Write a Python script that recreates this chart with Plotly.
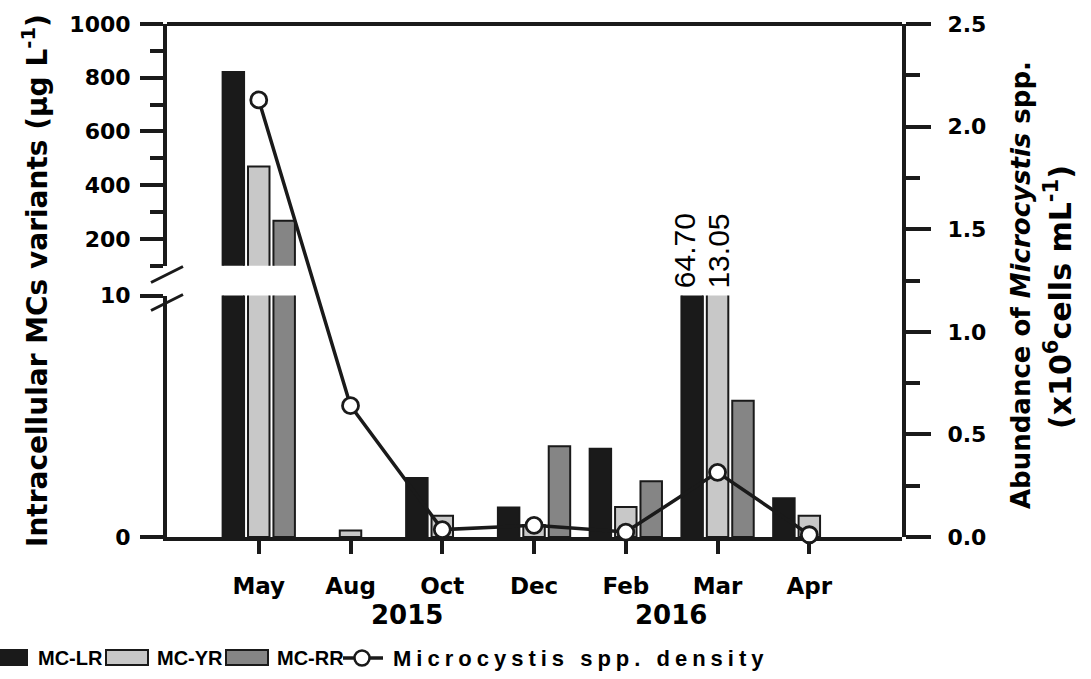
import plotly.graph_objects as go

# ---------------- data ----------------
months = ["May", "Aug", "Oct", "Dec", "Feb", "Mar", "Apr"]
years = ["2015", "2016"]
mc_lr = [821, 0, 2.44, 1.22, 3.65, 64.70, 1.60]
mc_yr = [469, 0.27, 0.88, 0.50, 1.24, 13.05, 0.88]
mc_rr = [267, 0, 0, 3.76, 2.31, 5.64, 0]
density = [2.13, 0.64, 0.036, 0.057, 0.024, 0.315, 0.011]

lower_ticks = [0, 10]
upper_ticks = [200, 400, 600, 800, 1000]
upper_minor = [100, 300, 500, 700, 900]
right_ticks = [0, 0.5, 1.0, 1.5, 2.0, 2.5]
right_minor = [0.25, 0.75, 1.25, 1.75, 2.25]

# ---------------- geometry helpers ----------------
W, H = 1091, 679
ML, MR, MT, MB = 167, 189, 24, 142
PW = W - ML - MR
PH = H - MT - MB


def px(xp):
    return (xp - ML) / PW


def py(yp):
    return (H - MB - yp) / PH


DARK = "#1a1a1a"
BOLD = dict(family="DejaVu Sans", size=22, color="#000", weight="bold")
LEG = dict(family="Liberation Sans", size=20, color="#000", weight="bold")

d_low = py(295.5)
d_up = py(265.7)

fig = go.Figure()

slot = 0.277
bw = 0.234
series = [("MC-LR", mc_lr, "#1a1a1a"), ("MC-YR", mc_yr, "#c8c8c8"), ("MC-RR", mc_rr, "#858585")]
xs = list(range(len(months)))
for k, (name, vals, color) in enumerate(series):
    shown = [v if v > 0 else None for v in vals]
    for yax in ["y", "y2"]:
        fig.add_trace(go.Bar(
            x=xs, y=shown, name=name, width=bw, offset=(k - 1) * slot - bw / 2,
            marker=dict(color=color, line=dict(color=DARK, width=2)),
            xaxis="x", yaxis=yax, showlegend=False,
        ))

fig.add_trace(go.Scatter(
    x=xs, y=density, name="Microcystis spp. density", mode="lines+markers",
    line=dict(color=DARK, width=3.5),
    marker=dict(symbol="circle", size=16, color="white", line=dict(color=DARK, width=2.8)),
    xaxis="x", yaxis="y3", showlegend=False, cliponaxis=False,
))

axis_common = dict(showgrid=False, zeroline=False, showline=True, linewidth=4,
                   linecolor=DARK, ticks="outside", tickwidth=4, tickcolor=DARK,
                   tickfont=BOLD)

fig.update_layout(
    width=W, height=H,
    margin=dict(l=ML, r=MR, t=MT, b=MB, autoexpand=False),
    paper_bgcolor="white", plot_bgcolor="rgba(0,0,0,0)",
    barmode="overlay", showlegend=False,
    xaxis=dict(axis_common, domain=[0, 1], range=[-1, 7.01], tickmode="array",
               tickvals=xs, ticktext=months, ticklen=13, anchor="y",
               ticklabelstandoff=12, tickfont=dict(BOLD, size=23)),
    yaxis=dict(axis_common, domain=[0, d_low], range=[0, 10], tickmode="array",
               tickvals=lower_ticks, ticklen=23, anchor="x", ticklabelstandoff=5),
    yaxis2=dict(axis_common, domain=[d_up, 1], range=[100, 1000], tickmode="array",
                tickvals=upper_ticks, ticklen=23, anchor="x", ticklabelstandoff=5,
                minor=dict(tickmode="array", tickvals=upper_minor, ticks="outside",
                           ticklen=13, tickwidth=4, tickcolor=DARK)),
    yaxis3=dict(axis_common, domain=[0, 1], range=[0, 2.5], side="right", anchor="x",
                tickmode="array", tickvals=right_ticks, tickformat=".1f", ticklen=25,
                ticklabelstandoff=12,
                minor=dict(tickmode="array", tickvals=right_minor, ticks="outside",
                           ticklen=14, tickwidth=4, tickcolor=DARK)),
)

shapes = []
# top frame line
shapes.append(dict(type="line", xref="paper", yref="paper", x0=0, x1=1, y0=1, y1=1,
                   line=dict(color=DARK, width=4)))
# axis break marks
for yc in (274.5, 302.5):
    shapes.append(dict(type="line", xref="paper", yref="paper",
                       x0=px(151), y0=py(yc + 8), x1=px(183), y1=py(yc - 8),
                       line=dict(color=DARK, width=3)))
# legend keys
leg_y0, leg_y1 = py(665), py(650)
for (x0, x1), (_, _, color) in zip([(-10, 27), (106, 148), (226, 268)], series):
    shapes.append(dict(type="rect", xref="paper", yref="paper",
                       x0=px(x0), x1=px(x1), y0=leg_y0, y1=leg_y1,
                       fillcolor=color, line=dict(color=DARK, width=2)))
shapes.append(dict(type="line", xref="paper", yref="paper", x0=px(343), x1=px(383),
                   y0=py(658), y1=py(658), line=dict(color=DARK, width=3.5)))
shapes.append(dict(type="circle", xref="paper", yref="paper", xsizemode="pixel",
                   ysizemode="pixel", xanchor=px(362), yanchor=py(658),
                   x0=-7.5, x1=7.5, y0=-7.5, y1=7.5, fillcolor="white",
                   line=dict(color=DARK, width=2.5)))
fig.update_layout(shapes=shapes)

ann = []
ann.append(dict(text="Intracellular MCs variants (μg L<sup>-1</sup>)", xref="paper",
                yref="paper", x=px(35), y=py(281), textangle=-90, showarrow=False,
                font=dict(BOLD, size=28), xanchor="center", yanchor="middle"))
ann.append(dict(text="Abundance of <i>Microcystis</i> spp.", xref="paper", yref="paper",
                x=px(1021), y=py(285), textangle=-90, showarrow=False,
                font=dict(BOLD, size=26), xanchor="center", yanchor="middle"))
ann.append(dict(text="(x10<sup>6</sup>cells mL<sup>-1</sup>)", xref="paper", yref="paper",
                x=px(1058), y=py(297), textangle=-90, showarrow=False,
                font=dict(BOLD, size=30), xanchor="center", yanchor="middle"))
# year labels
for yr, xc in zip(years, [1.62, 4.49]):
    ann.append(dict(text=yr, xref="x", yref="paper", x=xc, y=py(615), showarrow=False,
                    font=dict(BOLD, size=26), xanchor="center", yanchor="middle"))
# clipped-bar value labels for Mar
mar = months.index("Mar")
for k, vals, xsh in [(0, mc_lr, -7), (1, mc_yr, 1)]:
    ann.append(dict(text=f"{vals[mar]:.2f}", xref="x", yref="y",
                    x=mar + (k - 1) * slot, y=10, textangle=-90, showarrow=False,
                    xshift=xsh, yshift=5, xanchor="center", yanchor="bottom",
                    font=dict(family="Liberation Sans", size=30, color="#000")))
# legend labels
for name, xl, size, sp in [("MC-LR", 36, 20, 0), ("MC-YR", 155, 20, 0), ("MC-RR", 275, 20, 0),
                           ("Microcystis spp. density", 391, 22, 5)]:
    txt = name if sp == 0 else f'<span style="letter-spacing:{sp}px">{name}</span>'
    ann.append(dict(text=txt, xref="paper", yref="paper", x=px(xl), y=py(658),
                    showarrow=False, xanchor="left", yanchor="middle",
                    font=dict(LEG, size=size)))
fig.update_layout(annotations=ann)

fig.write_html("out.html")
